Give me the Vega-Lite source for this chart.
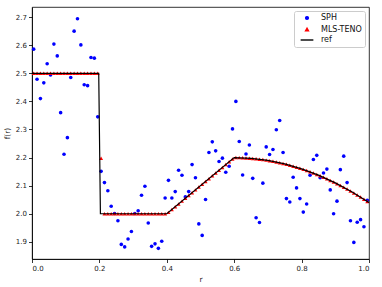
{
  "$schema": "https://vega.github.io/schema/vega-lite/v6.json",
  "width": 337,
  "height": 252,
  "autosize": "none",
  "padding": {"left": 32, "top": 7, "right": 13, "bottom": 28},
  "background": "white",
  "config": {
    "font": "DejaVu Sans",
    "view": {"stroke": "black", "strokeWidth": 0.8},
    "axis": {
      "grid": false,
      "domainColor": "black",
      "domainWidth": 0.8,
      "tickColor": "black",
      "tickWidth": 0.8,
      "tickSize": 3.5,
      "labelFont": "DejaVu Sans",
      "labelFontSize": 7,
      "labelColor": "#222",
      "labelPadding": 2,
      "titleFont": "DejaVu Sans",
      "titleFontSize": 7.5,
      "titleFontWeight": "normal",
      "titleColor": "#222"
    },
    "legend": {
      "orient": "top-right",
      "offset": 4,
      "padding": 3,
      "symbolOffset": 6,
      "symbolSize": 8,
      "symbolStrokeWidth": 1.4,
      "labelOffset": 10,
      "labelFontSize": 8,
      "labelFont": "DejaVu Sans",
      "labelColor": "#111",
      "rowPadding": 1.5,
      "strokeColor": "#cccccc",
      "fillColor": "white",
      "cornerRadius": 2
    }
  },
  "datasets": {
    "sph": [
      {"s": "SPH", "r": 0.005, "f": 2.586}, {"s": "SPH", "r": 0.015, "f": 2.479}, {"s": "SPH", "r": 0.025, "f": 2.41}, {"s": "SPH", "r": 0.035, "f": 2.466}, {"s": "SPH", "r": 0.045, "f": 2.534},
      {"s": "SPH", "r": 0.055, "f": 2.494}, {"s": "SPH", "r": 0.065, "f": 2.604}, {"s": "SPH", "r": 0.075, "f": 2.562}, {"s": "SPH", "r": 0.085, "f": 2.36}, {"s": "SPH", "r": 0.095, "f": 2.212},
      {"s": "SPH", "r": 0.105, "f": 2.271}, {"s": "SPH", "r": 0.115, "f": 2.485}, {"s": "SPH", "r": 0.125, "f": 2.65}, {"s": "SPH", "r": 0.135, "f": 2.694}, {"s": "SPH", "r": 0.145, "f": 2.601},
      {"s": "SPH", "r": 0.155, "f": 2.459}, {"s": "SPH", "r": 0.165, "f": 2.456}, {"s": "SPH", "r": 0.175, "f": 2.556}, {"s": "SPH", "r": 0.185, "f": 2.554}, {"s": "SPH", "r": 0.195, "f": 2.345},
      {"s": "SPH", "r": 0.205, "f": 2.151}, {"s": "SPH", "r": 0.215, "f": 2.111}, {"s": "SPH", "r": 0.225, "f": 2.082}, {"s": "SPH", "r": 0.235, "f": 2.027}, {"s": "SPH", "r": 0.245, "f": 2.001},
      {"s": "SPH", "r": 0.255, "f": 1.975}, {"s": "SPH", "r": 0.265, "f": 1.891}, {"s": "SPH", "r": 0.275, "f": 1.882}, {"s": "SPH", "r": 0.285, "f": 1.91}, {"s": "SPH", "r": 0.295, "f": 1.937},
      {"s": "SPH", "r": 0.305, "f": 2.001}, {"s": "SPH", "r": 0.315, "f": 2.011}, {"s": "SPH", "r": 0.325, "f": 2.066}, {"s": "SPH", "r": 0.335, "f": 2.098}, {"s": "SPH", "r": 0.345, "f": 1.967},
      {"s": "SPH", "r": 0.355, "f": 1.884}, {"s": "SPH", "r": 0.365, "f": 1.893}, {"s": "SPH", "r": 0.375, "f": 1.877}, {"s": "SPH", "r": 0.385, "f": 1.902}, {"s": "SPH", "r": 0.395, "f": 2.056},
      {"s": "SPH", "r": 0.405, "f": 2.119}, {"s": "SPH", "r": 0.415, "f": 2.056}, {"s": "SPH", "r": 0.425, "f": 2.079}, {"s": "SPH", "r": 0.435, "f": 2.155}, {"s": "SPH", "r": 0.445, "f": 2.137},
      {"s": "SPH", "r": 0.455, "f": 2.06}, {"s": "SPH", "r": 0.465, "f": 2.079}, {"s": "SPH", "r": 0.475, "f": 2.175}, {"s": "SPH", "r": 0.485, "f": 2.128}, {"s": "SPH", "r": 0.495, "f": 1.964},
      {"s": "SPH", "r": 0.505, "f": 1.923}, {"s": "SPH", "r": 0.515, "f": 2.051}, {"s": "SPH", "r": 0.525, "f": 2.218}, {"s": "SPH", "r": 0.535, "f": 2.256}, {"s": "SPH", "r": 0.545, "f": 2.224},
      {"s": "SPH", "r": 0.555, "f": 2.186}, {"s": "SPH", "r": 0.565, "f": 2.198}, {"s": "SPH", "r": 0.575, "f": 2.148}, {"s": "SPH", "r": 0.585, "f": 2.169}, {"s": "SPH", "r": 0.595, "f": 2.302},
      {"s": "SPH", "r": 0.605, "f": 2.4}, {"s": "SPH", "r": 0.615, "f": 2.257}, {"s": "SPH", "r": 0.625, "f": 2.138}, {"s": "SPH", "r": 0.635, "f": 2.213}, {"s": "SPH", "r": 0.645, "f": 2.245},
      {"s": "SPH", "r": 0.655, "f": 2.126}, {"s": "SPH", "r": 0.665, "f": 1.986}, {"s": "SPH", "r": 0.675, "f": 1.969}, {"s": "SPH", "r": 0.685, "f": 2.109}, {"s": "SPH", "r": 0.695, "f": 2.238},
      {"s": "SPH", "r": 0.705, "f": 2.211}, {"s": "SPH", "r": 0.715, "f": 2.229}, {"s": "SPH", "r": 0.725, "f": 2.299}, {"s": "SPH", "r": 0.735, "f": 2.332}, {"s": "SPH", "r": 0.745, "f": 2.218},
      {"s": "SPH", "r": 0.755, "f": 2.054}, {"s": "SPH", "r": 0.765, "f": 2.042}, {"s": "SPH", "r": 0.775, "f": 2.13}, {"s": "SPH", "r": 0.785, "f": 2.092}, {"s": "SPH", "r": 0.795, "f": 2.054},
      {"s": "SPH", "r": 0.805, "f": 2.006}, {"s": "SPH", "r": 0.815, "f": 2.035}, {"s": "SPH", "r": 0.825, "f": 2.137}, {"s": "SPH", "r": 0.835, "f": 2.193}, {"s": "SPH", "r": 0.845, "f": 2.208},
      {"s": "SPH", "r": 0.855, "f": 2.128}, {"s": "SPH", "r": 0.865, "f": 2.145}, {"s": "SPH", "r": 0.875, "f": 2.159}, {"s": "SPH", "r": 0.885, "f": 2.085}, {"s": "SPH", "r": 0.895, "f": 2.0},
      {"s": "SPH", "r": 0.905, "f": 2.045}, {"s": "SPH", "r": 0.915, "f": 2.157}, {"s": "SPH", "r": 0.925, "f": 2.205}, {"s": "SPH", "r": 0.935, "f": 2.111}, {"s": "SPH", "r": 0.945, "f": 1.975},
      {"s": "SPH", "r": 0.955, "f": 1.898}, {"s": "SPH", "r": 0.965, "f": 1.97}, {"s": "SPH", "r": 0.975, "f": 1.979}, {"s": "SPH", "r": 0.985, "f": 1.954}, {"s": "SPH", "r": 0.995, "f": 2.048}
    ],
    "teno": [
      {"s": "MLS-TENO", "r": 0.005, "f": 2.5}, {"s": "MLS-TENO", "r": 0.015, "f": 2.5}, {"s": "MLS-TENO", "r": 0.025, "f": 2.5}, {"s": "MLS-TENO", "r": 0.035, "f": 2.5}, {"s": "MLS-TENO", "r": 0.045, "f": 2.5},
      {"s": "MLS-TENO", "r": 0.055, "f": 2.5}, {"s": "MLS-TENO", "r": 0.065, "f": 2.5}, {"s": "MLS-TENO", "r": 0.075, "f": 2.5}, {"s": "MLS-TENO", "r": 0.085, "f": 2.5}, {"s": "MLS-TENO", "r": 0.095, "f": 2.5},
      {"s": "MLS-TENO", "r": 0.105, "f": 2.5}, {"s": "MLS-TENO", "r": 0.115, "f": 2.5}, {"s": "MLS-TENO", "r": 0.125, "f": 2.5}, {"s": "MLS-TENO", "r": 0.135, "f": 2.5}, {"s": "MLS-TENO", "r": 0.145, "f": 2.5},
      {"s": "MLS-TENO", "r": 0.155, "f": 2.5}, {"s": "MLS-TENO", "r": 0.165, "f": 2.5}, {"s": "MLS-TENO", "r": 0.175, "f": 2.5}, {"s": "MLS-TENO", "r": 0.185, "f": 2.5}, {"s": "MLS-TENO", "r": 0.195, "f": 2.5},
      {"s": "MLS-TENO", "r": 0.205, "f": 2.198}, {"s": "MLS-TENO", "r": 0.215, "f": 2.0}, {"s": "MLS-TENO", "r": 0.225, "f": 2.0}, {"s": "MLS-TENO", "r": 0.235, "f": 2.0}, {"s": "MLS-TENO", "r": 0.245, "f": 2.0},
      {"s": "MLS-TENO", "r": 0.255, "f": 2.0}, {"s": "MLS-TENO", "r": 0.265, "f": 2.0}, {"s": "MLS-TENO", "r": 0.275, "f": 2.0}, {"s": "MLS-TENO", "r": 0.285, "f": 2.0}, {"s": "MLS-TENO", "r": 0.295, "f": 2.0},
      {"s": "MLS-TENO", "r": 0.305, "f": 2.0}, {"s": "MLS-TENO", "r": 0.315, "f": 2.0}, {"s": "MLS-TENO", "r": 0.325, "f": 2.0}, {"s": "MLS-TENO", "r": 0.335, "f": 2.0}, {"s": "MLS-TENO", "r": 0.345, "f": 2.0},
      {"s": "MLS-TENO", "r": 0.355, "f": 2.0}, {"s": "MLS-TENO", "r": 0.365, "f": 2.0}, {"s": "MLS-TENO", "r": 0.375, "f": 2.0}, {"s": "MLS-TENO", "r": 0.385, "f": 2.0}, {"s": "MLS-TENO", "r": 0.395, "f": 2.0},
      {"s": "MLS-TENO", "r": 0.405, "f": 2.005}, {"s": "MLS-TENO", "r": 0.415, "f": 2.015}, {"s": "MLS-TENO", "r": 0.425, "f": 2.025}, {"s": "MLS-TENO", "r": 0.435, "f": 2.035}, {"s": "MLS-TENO", "r": 0.445, "f": 2.045},
      {"s": "MLS-TENO", "r": 0.455, "f": 2.055}, {"s": "MLS-TENO", "r": 0.465, "f": 2.065}, {"s": "MLS-TENO", "r": 0.475, "f": 2.075}, {"s": "MLS-TENO", "r": 0.485, "f": 2.085}, {"s": "MLS-TENO", "r": 0.495, "f": 2.095},
      {"s": "MLS-TENO", "r": 0.505, "f": 2.105}, {"s": "MLS-TENO", "r": 0.515, "f": 2.115}, {"s": "MLS-TENO", "r": 0.525, "f": 2.125}, {"s": "MLS-TENO", "r": 0.535, "f": 2.135}, {"s": "MLS-TENO", "r": 0.545, "f": 2.145},
      {"s": "MLS-TENO", "r": 0.555, "f": 2.155}, {"s": "MLS-TENO", "r": 0.565, "f": 2.165}, {"s": "MLS-TENO", "r": 0.575, "f": 2.175}, {"s": "MLS-TENO", "r": 0.585, "f": 2.185}, {"s": "MLS-TENO", "r": 0.595, "f": 2.195},
      {"s": "MLS-TENO", "r": 0.605, "f": 2.2}, {"s": "MLS-TENO", "r": 0.615, "f": 2.1998}, {"s": "MLS-TENO", "r": 0.625, "f": 2.1994}, {"s": "MLS-TENO", "r": 0.635, "f": 2.1988}, {"s": "MLS-TENO", "r": 0.645, "f": 2.198},
      {"s": "MLS-TENO", "r": 0.655, "f": 2.197}, {"s": "MLS-TENO", "r": 0.665, "f": 2.1958}, {"s": "MLS-TENO", "r": 0.675, "f": 2.1944}, {"s": "MLS-TENO", "r": 0.685, "f": 2.1928}, {"s": "MLS-TENO", "r": 0.695, "f": 2.191},
      {"s": "MLS-TENO", "r": 0.705, "f": 2.189}, {"s": "MLS-TENO", "r": 0.715, "f": 2.1868}, {"s": "MLS-TENO", "r": 0.725, "f": 2.1844}, {"s": "MLS-TENO", "r": 0.735, "f": 2.1818}, {"s": "MLS-TENO", "r": 0.745, "f": 2.179},
      {"s": "MLS-TENO", "r": 0.755, "f": 2.176}, {"s": "MLS-TENO", "r": 0.765, "f": 2.1728}, {"s": "MLS-TENO", "r": 0.775, "f": 2.1694}, {"s": "MLS-TENO", "r": 0.785, "f": 2.1658}, {"s": "MLS-TENO", "r": 0.795, "f": 2.162},
      {"s": "MLS-TENO", "r": 0.805, "f": 2.158}, {"s": "MLS-TENO", "r": 0.815, "f": 2.1538}, {"s": "MLS-TENO", "r": 0.825, "f": 2.1494}, {"s": "MLS-TENO", "r": 0.835, "f": 2.1448}, {"s": "MLS-TENO", "r": 0.845, "f": 2.14},
      {"s": "MLS-TENO", "r": 0.855, "f": 2.135}, {"s": "MLS-TENO", "r": 0.865, "f": 2.1298}, {"s": "MLS-TENO", "r": 0.875, "f": 2.1244}, {"s": "MLS-TENO", "r": 0.885, "f": 2.1188}, {"s": "MLS-TENO", "r": 0.895, "f": 2.113},
      {"s": "MLS-TENO", "r": 0.905, "f": 2.107}, {"s": "MLS-TENO", "r": 0.915, "f": 2.1008}, {"s": "MLS-TENO", "r": 0.925, "f": 2.0944}, {"s": "MLS-TENO", "r": 0.935, "f": 2.0878}, {"s": "MLS-TENO", "r": 0.945, "f": 2.081},
      {"s": "MLS-TENO", "r": 0.955, "f": 2.074}, {"s": "MLS-TENO", "r": 0.965, "f": 2.0668}, {"s": "MLS-TENO", "r": 0.975, "f": 2.0594}, {"s": "MLS-TENO", "r": 0.985, "f": 2.0518}, {"s": "MLS-TENO", "r": 0.995, "f": 2.044}
    ],
    "ref": [
      {"s": "ref", "o": 0, "r": 0.0, "f": 2.5}, {"s": "ref", "o": 1, "r": 0.198, "f": 2.5}, {"s": "ref", "o": 2, "r": 0.203, "f": 2.0}, {"s": "ref", "o": 3, "r": 0.4, "f": 2.0},
      {"s": "ref", "o": 4, "r": 0.6, "f": 2.2}, {"s": "ref", "o": 5, "r": 0.65, "f": 2.1975}, {"s": "ref", "o": 6, "r": 0.7, "f": 2.19}, {"s": "ref", "o": 7, "r": 0.75, "f": 2.1775},
      {"s": "ref", "o": 8, "r": 0.8, "f": 2.16}, {"s": "ref", "o": 9, "r": 0.85, "f": 2.1375}, {"s": "ref", "o": 10, "r": 0.9, "f": 2.11}, {"s": "ref", "o": 11, "r": 0.95, "f": 2.0775},
      {"s": "ref", "o": 12, "r": 1.0, "f": 2.04}
    ]
  },
  "encoding": {
    "x": {
      "field": "r", "type": "quantitative",
      "scale": {"domain": [0, 1], "nice": false, "zero": false},
      "axis": {"values": [0, 0.2, 0.4, 0.6, 0.8, 1.0], "format": ".1f", "title": "r", "titlePadding": 4}
    },
    "y": {
      "field": "f", "type": "quantitative",
      "scale": {"domain": [1.839, 2.736], "nice": false, "zero": false},
      "axis": {"values": [1.9, 2.0, 2.1, 2.2, 2.3, 2.4, 2.5, 2.6, 2.7], "format": ".1f", "title": "f(r)", "titlePadding": 4}
    }
  },
  "layer": [
    {
      "data": {"name": "sph"},
      "mark": {"type": "point", "filled": true, "size": 13, "opacity": 1},
      "encoding": {
        "color": {"field": "s", "type": "nominal", "scale": {"domain": ["SPH", "MLS-TENO", "ref"], "range": ["#0000ff", "#ff0000", "#000000"]}, "legend": {"title": null}},
        "shape": {"field": "s", "type": "nominal", "scale": {"domain": ["SPH", "MLS-TENO", "ref"], "range": ["circle", "triangle-up", "M-4.5,0L4.5,0"]}, "legend": {"title": null}}
      }
    },
    {
      "data": {"name": "teno"},
      "mark": {"type": "point", "filled": true, "size": 16, "opacity": 1},
      "encoding": {
        "color": {"field": "s", "type": "nominal"},
        "shape": {"field": "s", "type": "nominal"}
      }
    },
    {
      "data": {"name": "ref"},
      "mark": {"type": "line", "strokeWidth": 1.2},
      "encoding": {
        "order": {"field": "o", "type": "quantitative"},
        "color": {"field": "s", "type": "nominal"}
      }
    }
  ]
}
